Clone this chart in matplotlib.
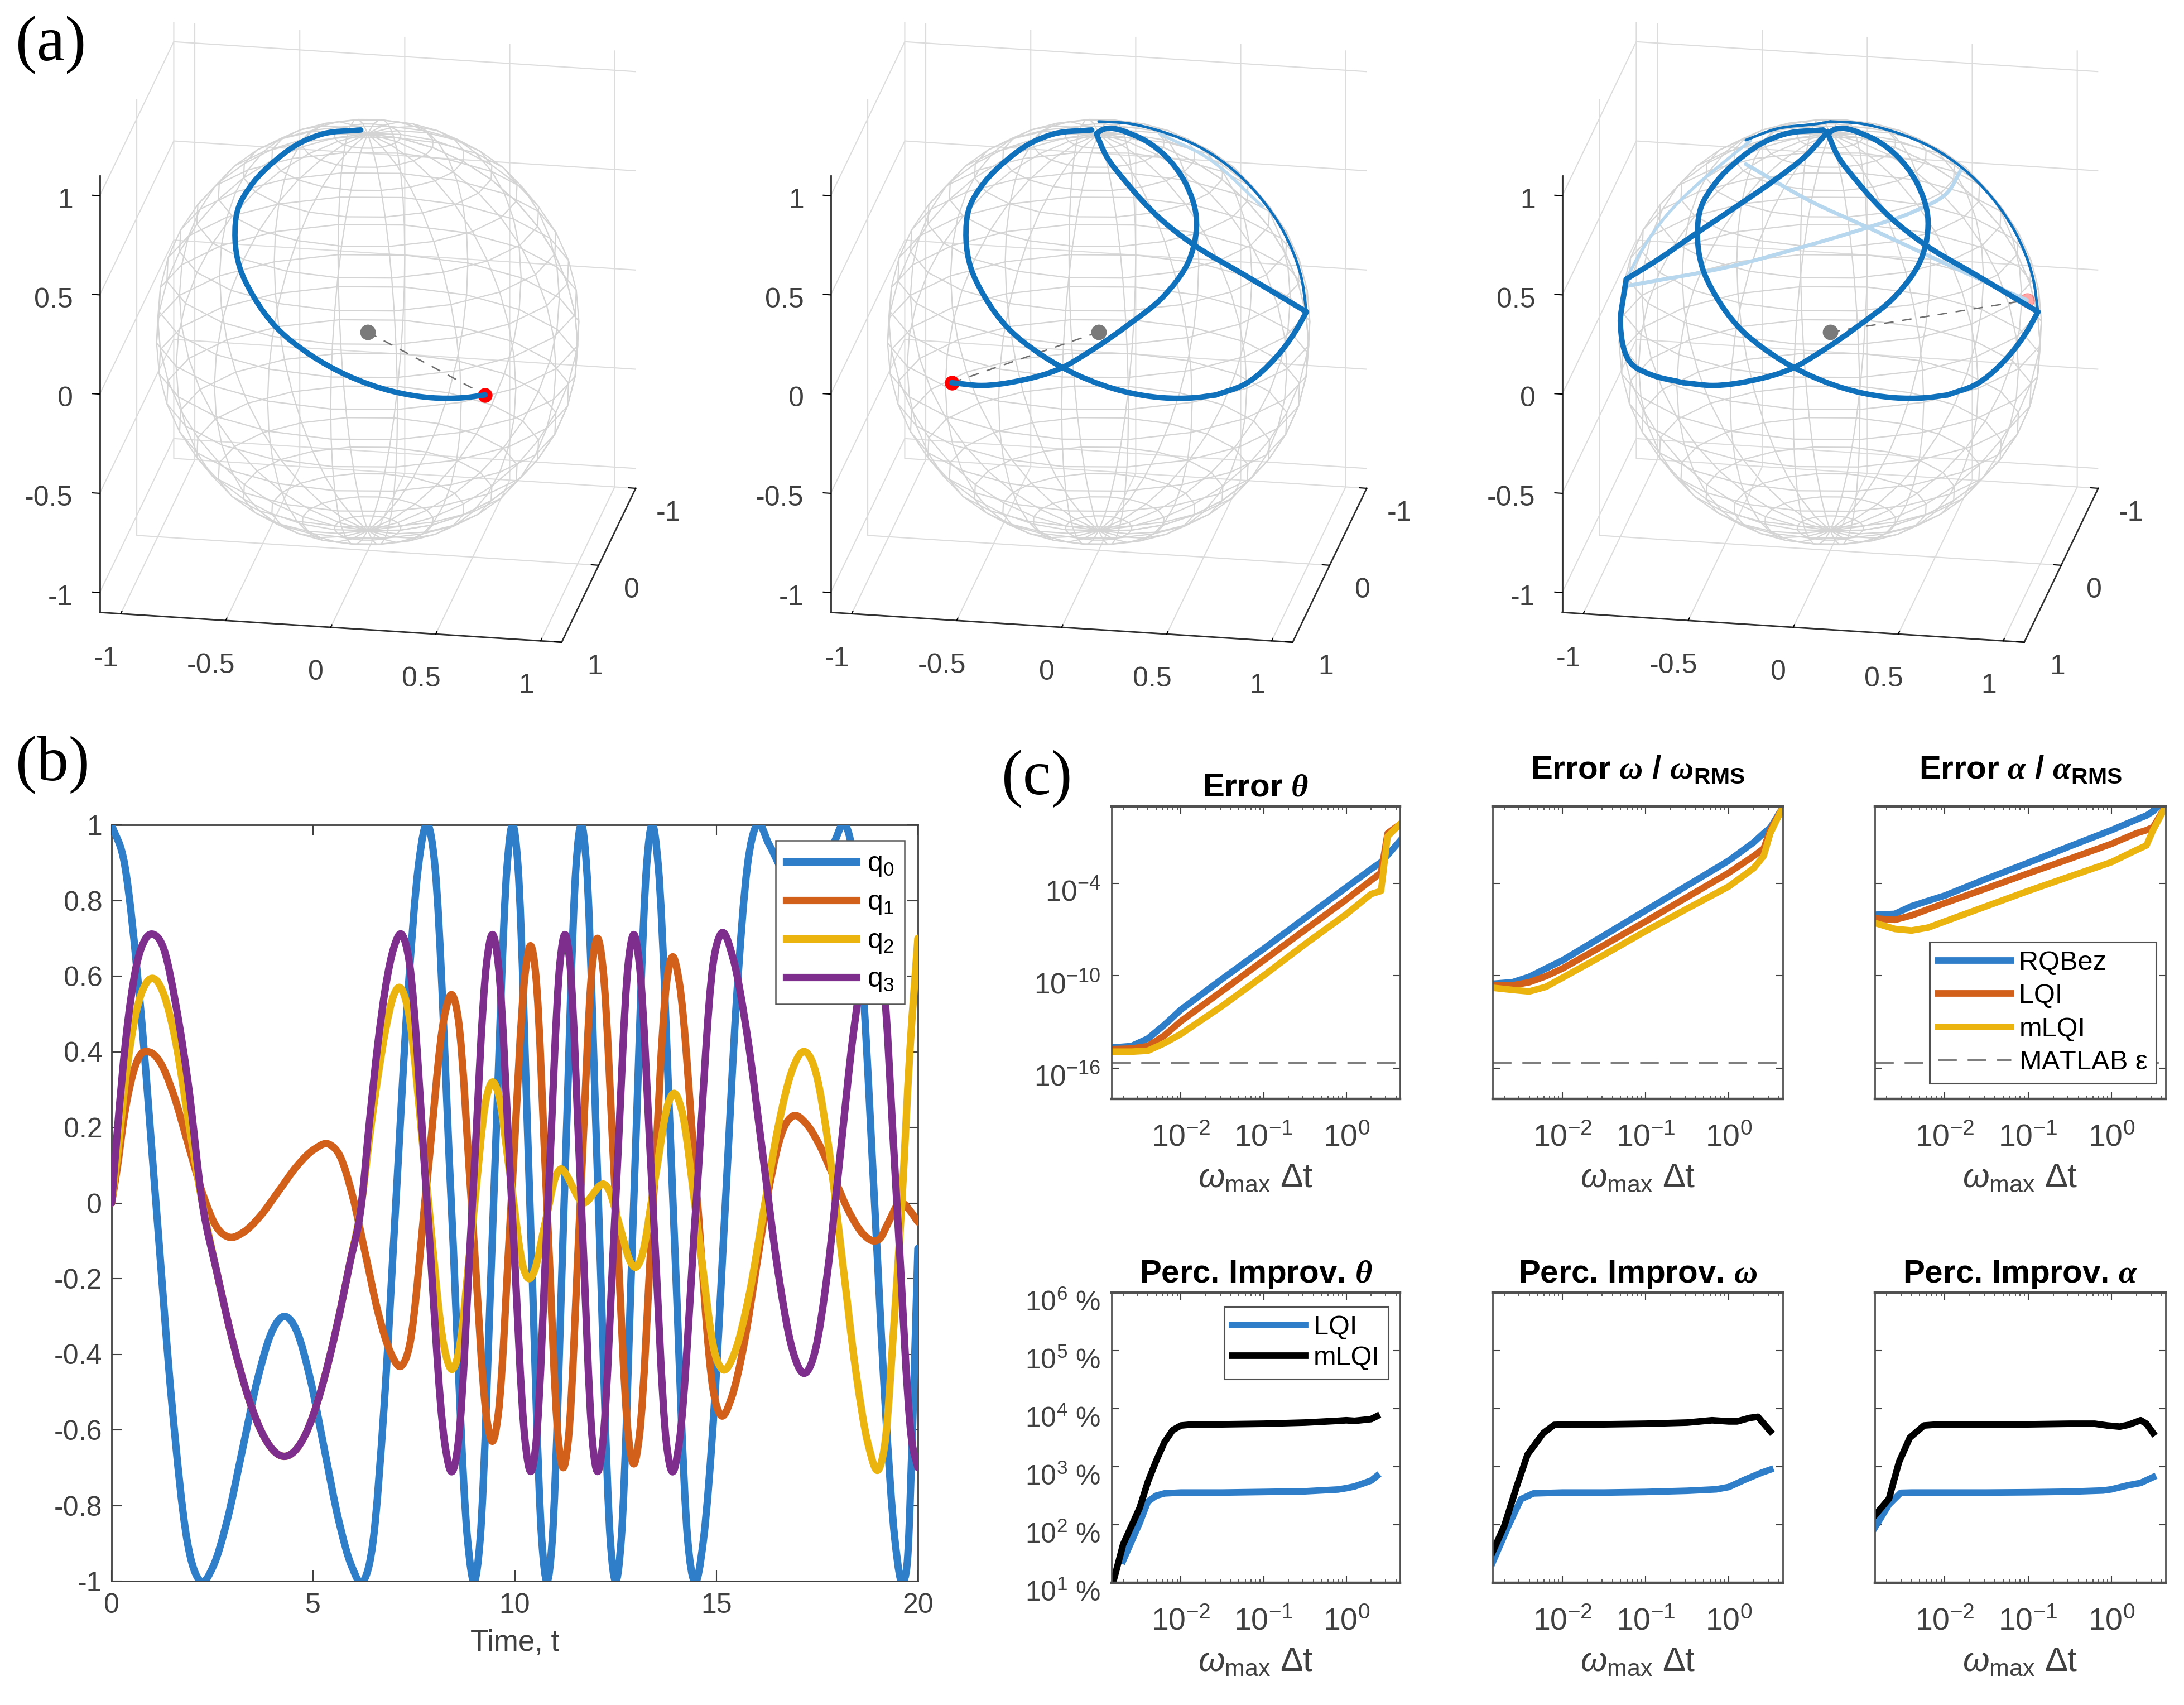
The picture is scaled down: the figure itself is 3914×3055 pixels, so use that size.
import matplotlib
matplotlib.use('Agg')
import matplotlib.pyplot as plt
from matplotlib.lines import Line2D
from matplotlib.patches import PathPatch
from matplotlib.path import Path
from matplotlib.ticker import NullFormatter
from matplotlib.transforms import ScaledTranslation
from mpl_toolkits.mplot3d import proj3d
import numpy as np

plt.rcParams['font.family'] = ['Liberation Sans', 'DejaVu Sans']
plt.rcParams['axes.unicode_minus'] = False
plt.rcParams['mathtext.fontset'] = 'custom'
plt.rcParams['mathtext.rm'] = 'Liberation Sans'
plt.rcParams['mathtext.it'] = 'Liberation Sans:italic'
plt.rcParams['mathtext.bf'] = 'Liberation Sans:bold'
plt.rcParams['mathtext.bfit'] = 'Liberation Serif:italic:bold'
plt.rcParams['mathtext.default'] = 'regular'

W, H = 3914, 3055
AZUL, LARANJA, AMARELO, ROXO = '#2F7EC9', '#D2601A', '#EBB40F', '#7E2F8E'
TEXTO = '#404040'

# (a) trajectory pieces, in sphere radii along the view's right and up directions
seg_esq_a = [-.033, -.211, -.322, -.433, -.544, -.611, -.629, -.607, -.544, -.433, -.278, -.1, .122, .3, .456, .556]
seg_esq_b = [.958, .94, .896, .818, .707, .596, .44, .307, .173, .022, -.104, -.204, -.282, -.311, -.311, -.298]
seg_baixo_a = [.556, .689, .844, .933, .985]
seg_baixo_b = [-.298, -.249, -.116, .004, .096]
seg_volta_a = [.985, .911, .689, .444, .289, .133, .033, -.011]
seg_volta_b = [.096, .14, .272, .418, .54, .707, .84, .94]
seg_limbo_a = [.985, .96, .875, .77, .615, .5, .284, .133, 0]
seg_limbo_b = [.096, .262, .478, .633, .787, .865, .955, .99, .998]
seg_dir_a = [-.011, .011, .178, .311, .411, .462, .433, .311, .133, -.044, -.178, -.378, -.556, -.696]
seg_dir_b = [.94, .956, .929, .84, .707, .551, .351, .173, .029, -.093, -.171, -.231, -.253, -.24]
seg_fim_a = [-.696, -.844, -.933, -.995, -.98, -.967]
seg_fim_b = [-.24, -.204, -.16, .04, .17, .251]
seg_sobe_a = [-.967, -.822, -.644, -.444, -.267, -.111, -.011]
seg_sobe_b = [.251, .34, .462, .596, .718, .84, .951]
seg_limbo2_a = [0, -.044, -.267, -.4]
seg_limbo2_b = [.998, .99, .96, .91]
# parts on the far side of the sphere
tras1_a = [-.967, -.444, -.156, .178, .4, .556, .622]
tras1_b = [.218, .318, .396, .496, .573, .662, .773]
tras2_a = [-.4, -.089, .178, .489, .756, .933]
tras2_b = [.796, .618, .496, .351, .229, .151]
tras3_a = [-.967, -.889, -.778, -.622, -.489, -.378]
tras3_b = [.251, .396, .551, .707, .818, .907]
tras4_a = [.289, .511, .776]
tras4_b = [.94, .829, .596]
pontos_a = [.556, -.696, .933]
pontos_b = [-.298, -.24, .151]

# (b) quaternion components
t0 = [0, .33, .7, 1.1, 1.5, 1.87, 2.2, 2.515, 2.87, 3.25, 3.63, 3.985, 4.3, 4.59, 4.92, 5.275, 5.63, 5.96, 6.25,
      6.49, 6.76, 7.05, 7.34, 7.61, 7.85, 8.02, 8.425, 8.83, 9, 9.14, 9.475, 9.81, 9.95, 10.08, 10.375, 10.67, 10.8,
      10.93, 11.225, 11.52, 11.65, 11.78, 12.075, 12.37, 12.5, 12.64, 12.95, 13.27, 13.4, 13.56, 13.925, 14.29, 14.45,
      14.68, 14.95, 15.225, 15.5, 15.77, 16, 16.3, 16.6, 16.9, 17.2, 17.5, 17.7, 17.95, 18.2, 18.42, 18.66, 18.925,
      19.19, 19.43, 19.65, 19.75, 19.88, 20]
q0 = [1, .891, .536, 0, -.536, -.891, -1, -.962, -.838, -.65, -.462, -.338, -.3, -.338, -.462, -.65, -.838, -.962, -1,
      -.891, -.536, 0, .536, .891, 1, .891, 0, -.891, -1, -.891, 0, .891, 1, .891, 0, -.891, -1,
      -.891, 0, .891, 1, .891, 0, -.891, -1, -.891, 0, .891, 1, .891, 0, -.891, -1,
      -.891, -.536, 0, .536, .891, 1, .95, .885, .82, .77, .82, .885, .96, 1, .891, .536, 0,
      -.536, -.891, -1, -.93, -.55, -.12]
t1 = [0, .15, .3, .5, .7, .9, 1.2, 1.54, 1.9, 2.26, 2.6, 2.9, 3.275, 3.7, 4.15, 4.6, 5.025, 5.4, 5.67, 5.976, 6.3,
      6.62, 6.93, 7.2, 7.39, 7.825, 8.26, 8.45, 8.6, 8.95, 9.3, 9.45, 9.59, 9.925, 10.26, 10.4, 10.52, 10.8, 11.08,
      11.2, 11.33, 11.625, 11.92, 12.05, 12.185, 12.5, 12.815, 12.95, 13.09, 13.425, 13.76, 13.9, 14.08, 14.5, 14.92,
      15.1, 15.37, 15.68, 16, 16.32, 16.63, 16.9, 17.21, 17.56, 17.925, 18.29, 18.64, 18.95, 19.05, 19.275, 19.5,
      19.6, 19.8, 20]
q1 = [0, .1, .22, .33, .39, .4, .373, .286, .155, .024, -.063, -.09, -.077, -.033, .0325, .098, .142, .155, .123, .019,
      -.1375, -.294, -.398, -.43, -.377, .06, .497, .55, .486, -.04, -.566, -.63, -.559, .025, .609, .68, .605, -.01,
      -.625, -.7, -.624, 0, .624, .7, .624, .005, -.614, -.69, -.617, -.02, .577, .65, .584, .045, -.494,
      -.56, -.517, -.377, -.165, .047, .187, .23, .212, .153, .065, -.023, -.082, -.1, -.095, -.05, -.005,
      0, -.02, -.05]
t2 = [0, .15, .35, .6, .85, 1.1, 1.3, 1.6, 1.9, 2.25, 2.6, 3, 3.4, 3.8, 4.3, 4.8, 5.2, 5.6, 5.9, 6.2, 6.4, 6.6, 6.8,
      7, 7.15, 7.345, 7.8, 8.255, 8.45, 8.6, 8.95, 9.3, 9.45, 9.585, 9.9, 10.215, 10.35, 10.47, 10.75, 11.03, 11.15,
      11.25, 11.425, 11.6, 11.7, 11.8, 11.95, 12.1, 12.2, 12.32, 12.6, 12.88, 13, 13.14, 13.475, 13.81, 13.95, 14.13,
      14.55, 14.97, 15.15, 15.46, 15.81, 16.175, 16.54, 16.89, 17.2, 17.48, 17.79, 18.125, 18.46, 18.77, 19.05, 19.2,
      19.4, 19.6, 19.8, 20]
q2 = [0, .13, .33, .5, .58, .59, .55, .42, .22, 0, -.178, -.364, -.517, -.622, -.67, -.614, -.493, -.319, -.164, 0,
      .175, .33, .46, .55, .57, .515, .065, -.385, -.44, -.399, -.06, .279, .32, .292, .06, -.172, -.2, -.184, -.055,
      .074, .09, .08, .045, .01, 0, .005, .025, .045, .05, .038, -.06, -.158, -.17, -.145, .06, .265, .29, .25,
      -.075, -.4, -.44, -.394, -.245, -.02, .205, .354, .4, .34, .145, -.15, -.445, -.64, -.7, -.62,
      -.33, 0, .4, .7]
t3 = [0, .15, .35, .6, .85, 1.05, 1.3, 1.6, 1.9, 2.25, 2.6, 3, 3.4, 3.8, 4.3, 4.8, 5.2, 5.6, 5.9, 6.2, 6.4, 6.6, 6.8,
      7, 7.2, 7.39, 7.825, 8.26, 8.45, 8.6, 8.95, 9.3, 9.45, 9.59, 9.925, 10.26, 10.4, 10.53, 10.825, 11.12, 11.25,
      11.37, 11.65, 11.93, 12.05, 12.185, 12.5, 12.815, 12.95, 13.09, 13.425, 13.76, 13.9, 14.08, 14.5, 14.92, 15.1,
      15.415, 15.77, 16.15, 16.53, 16.885, 17.2, 17.46, 17.76, 18.075, 18.39, 18.69, 18.95, 19.11, 19.475, 19.84, 20]
q3 = [0, .2, .43, .62, .7, .71, .67, .52, .315, 0, -.178, -.364, -.517, -.622, -.67, -.614, -.493, -.319, -.164, 0,
      .219, .417, .574, .675, .71, .633, 0, -.633, -.71, -.633, 0, .633, .71, .633, 0, -.633, -.71, -.633, 0, .633,
      .71, .633, 0, -.633, -.71, -.633, 0, .633, .71, .633, 0, -.633, -.71, -.633, 0, .633, .71,
      .647, .441, .13, -.181, -.387, -.45, -.387, -.181, .13, .441, .647, .71, .633, .005, -.623, -.7]

# (c) top row, log10 of the errors
logx_erro = [-2.84, -2.6, -2.4, -2.2, -2, -1.5, -1, -.5, 0, .3, .42, .5, .65]
theta_rqbez = [-14.67, -14.57, -14.08, -13.19, -12.2, -10.2, -8.25, -6.25, -4.26, -3.07, -2.62, -2.16, -1.23]
theta_lqi = [-14.77, -14.73, -14.57, -13.88, -12.95, -10.98, -9, -7.02, -5.05, -3.8, -3.31, -.74, -.15]
theta_mlqi = [-14.93, -14.93, -14.87, -14.38, -13.78, -11.96, -9.99, -7.95, -6, -4.69, -4.49, -.94, -.15]
omega_rqbez = [-10.52, -10.42, -10.07, -9.53, -9, -7.38, -5.76, -4.14, -2.52, -1.33, -.74, -.38, .94]
omega_lqi = [-10.62, -10.62, -10.42, -10.03, -9.53, -8.01, -6.47, -4.89, -3.31, -2.22, -1.73, -.54, .94]
omega_mlqi = [-10.78, -10.92, -11.02, -10.72, -10.13, -8.64, -7.1, -5.64, -4.2, -3.01, -2.22, -.74, .94]
alpha_rqbez = [-6.04, -5.98, -5.48, -5.13, -4.79, -3.7, -2.66, -1.59, -.54, .15, .41, .69, 1.44]
alpha_lqi = [-6.27, -6.37, -6.08, -5.68, -5.28, -4.32, -3.35, -2.4, -1.43, -.74, -.54, -.34, 1]
alpha_mlqi = [-6.57, -6.96, -7.06, -6.87, -6.47, -5.48, -4.49, -3.55, -2.62, -1.83, -1.53, -.54, 1]
eps_matlab = 2.2e-16

# (c) bottom row, log10 of the percent improvement
x_theta_lqi = [-2.7, -2.5, -2.4, -2.3, -2.2, -2, -1.5, -1, -.5, -.1, 0, .1, .3, .37]
y_theta_lqi = [1.38, 2.03, 2.4, 2.5, 2.54, 2.555, 2.555, 2.565, 2.576, 2.607, 2.63, 2.66, 2.76, 2.84]
x_theta_mlqi = [-2.82, -2.7, -2.5, -2.4, -2.3, -2.2, -2.1, -2, -1.85, -1.5, -1, -.5, -.1, 0, .1, .3, .37]
y_theta_mlqi = [1.01, 1.66, 2.29, 2.74, 3.1, 3.42, 3.63, 3.71, 3.73, 3.73, 3.74, 3.76, 3.79, 3.8, 3.79, 3.82, 3.87]
x_omega_lqi = [-2.84, -2.65, -2.5, -2.35, -2, -1.5, -1, -.5, -.15, 0, .2, .4, .5]
y_omega_lqi = [1.35, 1.98, 2.44, 2.54, 2.555, 2.555, 2.565, 2.585, 2.61, 2.65, 2.78, 2.9, 2.95]
x_omega_mlqi = [-2.84, -2.7, -2.55, -2.42, -2.23, -2.1, -1.9, -1.5, -1, -.5, -.2, 0, .1, .25, .35, .5]
y_omega_mlqi = [1.53, 1.98, 2.66, 3.21, 3.58, 3.72, 3.73, 3.73, 3.74, 3.76, 3.8, 3.78, 3.78, 3.84, 3.86, 3.61]
x_alpha_lqi = [-2.84, -2.67, -2.53, -2.4, -2, -1.5, -1, -.5, -.1, 0, .2, .35, .5]
y_alpha_lqi = [1.95, 2.35, 2.55, 2.555, 2.555, 2.555, 2.56, 2.57, 2.59, 2.61, 2.68, 2.72, 2.82]
x_alpha_mlqi = [-2.84, -2.67, -2.55, -2.42, -2.25, -2.06, -1.5, -1, -.5, -.2, -.05, .1, .2, .35, .42, .5]
y_alpha_mlqi = [2.16, 2.45, 3.08, 3.5, 3.71, 3.73, 3.73, 3.73, 3.74, 3.74, 3.71, 3.69, 3.72, 3.8, 3.74, 3.58]

fig = plt.figure(figsize=(W / 100, H / 100), dpi=100)


def eixo_px(x0, x1, y0, y1, **kw):
    # axes from pixel box, y measured from the top of the picture
    return fig.add_axes([x0 / W, 1 - y1 / H, (x1 - x0) / W, (y1 - y0) / H], **kw)


def curva(ax, x, y, cor, lw, zorder=3, parametrico=False):
    # draw the read values as one smooth Bezier path (line smoothing only, the values stay as read)
    x, y = np.asarray(x, float), np.asarray(y, float)
    if parametrico:
        d = np.hypot(np.diff(x), np.diff(y))
        s = np.concatenate([[0], np.cumsum(d)])
    else:
        s = x
    dx, dy = np.gradient(x, s), np.gradient(y, s)
    h = np.diff(s) / 3
    verts = [(x[0], y[0])]
    for i in range(len(x) - 1):
        verts.append((x[i] + h[i] * dx[i], y[i] + h[i] * dy[i]))
        verts.append((x[i + 1] - h[i] * dx[i + 1], y[i + 1] - h[i] * dy[i + 1]))
        verts.append((x[i + 1], y[i + 1]))
    codes = [Path.MOVETO] + [Path.CURVE4] * (len(verts) - 1)
    ax.add_patch(PathPatch(Path(verts, codes), fill=False, edgecolor=cor, lw=lw, capstyle='round',
                           joinstyle='round', zorder=zorder))


# ---------- (a) spheres ----------
ELEV, AZIM = 21.5, -80
RAIO = 378
ticks_xz = [-1, -.5, 0, .5, 1]
rotulos_xz = ['-1', '-0.5', '0', '0.5', '1']
ticks_y = [-1, 0, 1]
rotulos_y = ['-1', '0', '1']


def linha(ax, a, b, cor='#0F70BC', lw=7.0, zorder=3):
    curva(ax, a, b, cor, lw, zorder, parametrico=True)


def rotulo3d(ax, x, y, z, s, ha='center'):
    # tick label placed as flat figure text at the projected data position
    x2, y2, _ = proj3d.proj_transform(x, y, z, ax.get_proj())
    px, py = ax.transData.transform((x2, y2))
    fig.text(px / W, py / H, s, fontsize=36, color=TEXTO, ha=ha, va='center')


def esfera(cx, indice):
    lado_px = 1372
    left = cx - .5135 * lado_px
    bottom_top = 595 + .5135 * lado_px
    ax = eixo_px(left, left + lado_px, bottom_top - lado_px, bottom_top, projection='3d')
    ax.patch.set_alpha(0)
    ax.set_proj_type('ortho')
    ax.view_init(elev=ELEV, azim=AZIM)
    ax.set_xlim(-1.1, 1.1)
    ax.set_ylim(1, -1)
    ax.set_zlim(-1.1, 1.1)
    ax.set_box_aspect((2.2, 2, 2.2))
    ax.set_xticks(ticks_xz)
    ax.set_yticks(ticks_y)
    ax.set_zticks(ticks_xz)
    for eixo in (ax.xaxis, ax.yaxis, ax.zaxis):
        eixo.set_major_formatter(NullFormatter())
        for tick in eixo.get_major_ticks():
            tick.label1.set_visible(False)
        eixo.set_pane_color((1, 1, 1, 0))
        eixo.pane.set_edgecolor('#dcdcdc')
        eixo.pane.set_linewidth(1.5)
        eixo._axinfo['grid'].update(color='#dcdcdc', linewidth=1.5)
        eixo.line.set_color('#303030')
        eixo.line.set_linewidth(2.0)
        eixo._axinfo['tick']['inward_factor'] = 0.0
        eixo._axinfo['tick']['outward_factor'] = 0.2
        eixo._axinfo['tick']['linewidth'] = {True: 1.5, False: 1.0}
    ax.zaxis.set_ticks_position('upper')
    ax.apply_aspect()

    # the default 3D label offset lands too far off
    for v, s in zip(ticks_xz, rotulos_xz):
        rotulo3d(ax, v - .07, 1, -1.333, s)
        rotulo3d(ax, -1.228, 1, v - .035, s, ha='right')
    for v, s in zip(ticks_y, rotulos_y):
        rotulo3d(ax, 1.257, v, -1.215, s)

    lon, lat = np.meshgrid(np.linspace(0, 2 * np.pi, 21), np.linspace(-np.pi / 2, np.pi / 2, 21))
    ax.plot_wireframe(np.cos(lat) * np.cos(lon), np.cos(lat) * np.sin(lon), np.sin(lat),
                      color='#d4d4d4', linewidth=1.6)

    # trajectory goes on a flat overlay, in sphere radii about the sphere centre
    ov = eixo_px(cx - 1.2 * RAIO, cx + 1.2 * RAIO, 595 - 1.2 * RAIO, 595 + 1.2 * RAIO)
    ov.set_xlim(-1.2, 1.2)
    ov.set_ylim(-1.2, 1.2)
    ov.axis('off')
    if indice == 1:
        linha(ov, tras4_a, tras4_b, '#BBD9EF', 4)
    if indice == 2:
        linha(ov, tras1_a, tras1_b, '#B7D7EE', 5)
        linha(ov, tras2_a, tras2_b, '#B7D7EE', 5)
        linha(ov, tras3_a, tras3_b, '#B7D7EE', 4)
    pa, pb = pontos_a[indice], pontos_b[indice]
    ov.plot([0, pa], [0, pb], color='#6e6e6e', lw=1.8, ls=(0, (7, 6)), zorder=2)
    ov.plot([0], [0], 'o', color='#7a7a7a', ms=19, zorder=4)
    ov.plot([pa], [pb], 'o', color='#ff0000', ms=18, alpha=.35 if indice == 2 else 1, zorder=2.5)
    linha(ov, seg_esq_a, seg_esq_b)
    if indice >= 1:
        linha(ov, seg_baixo_a, seg_baixo_b)
        linha(ov, seg_volta_a, seg_volta_b)
        linha(ov, seg_limbo_a, seg_limbo_b, lw=3.5)
        linha(ov, seg_dir_a, seg_dir_b)
    if indice == 2:
        linha(ov, seg_fim_a, seg_fim_b)
        linha(ov, seg_sobe_a, seg_sobe_b)
        linha(ov, seg_limbo2_a, seg_limbo2_b, lw=3.5)
    return ax


for i, cx in enumerate([659, 1969, 3280]):
    esfera(cx, i)

# ---------- (b) ----------
ax = eixo_px(200, 1645, 1478, 2833)
curva(ax, t0, q0, AZUL, 9.5)
curva(ax, t1, q1, LARANJA, 9.5, 3.1)
curva(ax, t2, q2, AMARELO, 9.5, 3.2)
curva(ax, t3, q3, ROXO, 9.5, 3.3)
ax.set_xlim(0, 20)
ax.set_ylim(-1, 1)
ax.set_xticks([0, 5, 10, 15, 20])
ax.set_yticks(np.arange(-5, 6) * .2)
ax.set_yticklabels(['-1', '-0.8', '-0.6', '-0.4', '-0.2', '0', '0.2', '0.4', '0.6', '0.8', '1'])
ax.tick_params(direction='in', top=True, right=True, length=14, width=1.5, labelsize=36,
               labelcolor=TEXTO, color=TEXTO, pad=12)
ax.tick_params(axis='x', pad=15)
for s in ax.spines.values():
    s.set_color(TEXTO)
    s.set_linewidth(2)
ax.set_xlabel('Time, t', fontsize=38, color=TEXTO, labelpad=14)
alcas = [Line2D([], [], color=c, lw=9.5) for c in (AZUL, LARANJA, AMARELO, ROXO)]
leg = ax.legend(alcas, ['q$_0$', 'q$_1$', 'q$_2$', 'q$_3$'], loc='upper left', bbox_to_anchor=(.8235, .979),
                borderaxespad=0, fontsize=36, frameon=True, fancybox=False, framealpha=1, edgecolor='#555555',
                handlelength=2.5, labelspacing=.42, borderpad=.38, handletextpad=.4)
leg.get_frame().set_linewidth(1.8)
leg.set_zorder(10)


# ---------- (c) ----------
xt = [1e-2, 1e-1, 1]
xtl = ['$10^{-2}$', '$10^{-1}$', '$10^{0}$']
xlab = r'$\mathit{\omega}_{max}\ \Delta$t'


def estilo_log(ax, titulo, ylim, yt, ytl, pad_titulo=13, ysize=37, desce=9):
    ax.set_xscale('log')
    ax.set_yscale('log')
    ax.set_xlim(10**-2.84, 10**.65)
    ax.set_ylim(*ylim)
    ax.set_xticks(xt)
    ax.set_xticklabels(xtl)
    ax.set_yticks(yt)
    ax.minorticks_on()
    ax.yaxis.set_minor_locator(matplotlib.ticker.NullLocator())
    ax.tick_params(which='major', direction='in', top=True, right=True, length=9, width=1.5,
                   labelcolor=TEXTO, color=TEXTO)
    ax.tick_params(which='minor', direction='in', top=True, right=True, length=4, width=1.2, color=TEXTO)
    ax.tick_params(axis='x', which='major', pad=32, labelsize=40)
    ax.tick_params(axis='y', which='major', pad=14, labelsize=ysize)
    if ytl:
        ax.set_yticklabels(ytl)
        for lab in ax.get_yticklabels():
            lab.set_transform(lab.get_transform() + ScaledTranslation(0, -desce / 72, fig.dpi_scale_trans))
    else:
        ax.tick_params(axis='y', which='both', labelleft=False)
    for s in ax.spines.values():
        s.set_color('#505050')
        s.set_linewidth(2)
    ax.spines['top'].set_linewidth(3.2)
    ax.spines['bottom'].set_linewidth(3.2)
    ax.set_title(titulo, fontsize=42, fontweight='bold', pad=pad_titulo)
    ax.set_xlabel(xlab, fontsize=44, color=TEXTO, labelpad=12)


colunas = [(1992, 2509), (2675, 3195), (3360, 3881)]
erros = [(theta_rqbez, theta_lqi, theta_mlqi), (omega_rqbez, omega_lqi, omega_mlqi), (alpha_rqbez, alpha_lqi, alpha_mlqi)]
titulos_erro = [r'Error $\boldsymbol{\theta}$',
                r'Error $\boldsymbol{\omega}$ / $\boldsymbol{\omega}_{\mathbf{RMS}}$',
                r'Error $\boldsymbol{\alpha}$ / $\boldsymbol{\alpha}_{\mathbf{RMS}}$']
for j, (x0, x1) in enumerate(colunas):
    ax = eixo_px(x0, x1, 1445, 1969)
    xs = 10.0 ** np.array(logx_erro)
    for serie, cor, nome in zip(erros[j], (AZUL, LARANJA, AMARELO), ('RQBez', 'LQI', 'mLQI')):
        ax.plot(xs, 10.0 ** np.array(serie), color=cor, lw=8.5, label=nome)
    ax.axhline(eps_matlab, color='#707070', lw=2, ls=(0, (12, 7)), label=r'MATLAB $\epsilon$')
    estilo_log(ax, titulos_erro[j], (1e-18, 1e1), [1e-16, 1e-10, 1e-4],
               ['$10^{-16}$', '$10^{-10}$', '$10^{-4}$'] if j == 0 else None,
               pad_titulo=13 if j == 0 else 36, ysize=37)
    if j == 2:
        leg = ax.legend(loc='upper left', bbox_to_anchor=(.188, .536), borderaxespad=0, fontsize=35, frameon=True,
                        fancybox=False, framealpha=1, edgecolor='#505050', handlelength=2.7, labelspacing=.3,
                        borderpad=.3, handletextpad=.3)
        leg.get_frame().set_linewidth(2.2)

melhoras = [(x_theta_lqi, y_theta_lqi, x_theta_mlqi, y_theta_mlqi),
            (x_omega_lqi, y_omega_lqi, x_omega_mlqi, y_omega_mlqi),
            (x_alpha_lqi, y_alpha_lqi, x_alpha_mlqi, y_alpha_mlqi)]
titulos_melhora = [r'Perc. Improv. $\boldsymbol{\theta}$', r'Perc. Improv. $\boldsymbol{\omega}$',
                   r'Perc. Improv. $\boldsymbol{\alpha}$']
ytp = [1e1, 1e2, 1e3, 1e4, 1e5, 1e6]
for j, (x0, x1) in enumerate(colunas):
    ax = eixo_px(x0, x1, 2316, 2836)
    xl, yl, xm, ym = melhoras[j]
    ax.plot(10.0 ** np.array(xl), 10.0 ** np.array(yl), color=AZUL, lw=8.5, label='LQI')
    ax.plot(10.0 ** np.array(xm), 10.0 ** np.array(ym), color='black', lw=8.5, label='mLQI')
    estilo_log(ax, titulos_melhora[j], (1e1, 1e6), ytp,
               ['$10^{%d}$ %%' % k for k in range(1, 7)] if j == 0 else None, ysize=36, desce=10)
    if j == 0:
        leg = ax.legend(loc='upper left', bbox_to_anchor=(.39, .952), borderaxespad=0, fontsize=35, frameon=True,
                        fancybox=False, framealpha=1, edgecolor='#505050', handlelength=2.7, labelspacing=.22,
                        borderpad=.3, handletextpad=.3)
        leg.get_frame().set_linewidth(2.2)

# panel letters
for letra, x, y in [('(a)', 28, 80), ('(b)', 28, 1370), ('(c)', 1795, 1395)]:
    fig.text(x / W, 1 - y / H, letra, fontsize=82, family='Liberation Serif', va='center', ha='left', color='black')

fig.savefig('out.png', dpi=100, facecolor='white')
